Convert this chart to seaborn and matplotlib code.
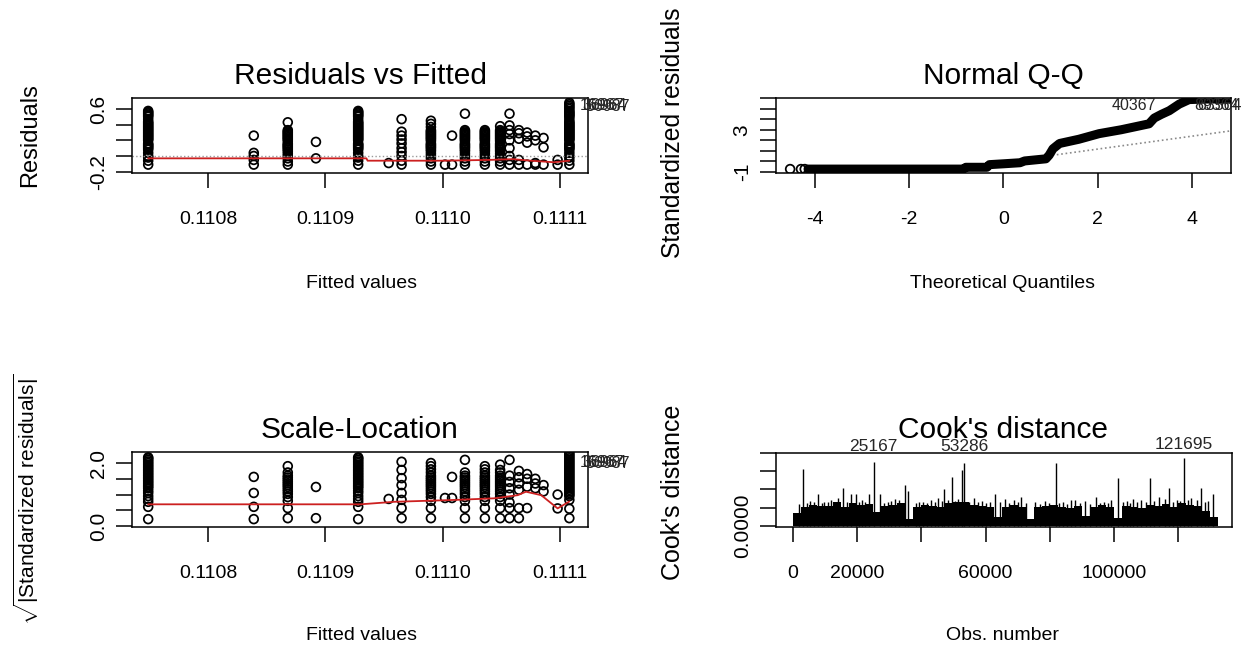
import matplotlib
matplotlib.use("Agg")
import pandas as pd
import matplotlib.pyplot as plt
import seaborn as sns
from matplotlib import font_manager

# ---------------- data ----------------
# Residuals vs Fitted / Scale-Location: one column of points per fitted value
fit_cols = [0.110749, 0.110839, 0.110868, 0.110892, 0.110928, 0.110954, 0.110965,
            0.110990, 0.111002, 0.111008, 0.111019, 0.111036, 0.111049, 0.111057,
            0.111065, 0.111072, 0.111079, 0.111086, 0.111098, 0.111108]

resid_dense = [-0.11, -0.06, -0.02, 0.0, 0.04, 0.08, 0.10, 0.115, 0.13, 0.145, 0.16, 0.20,
               0.215, 0.23, 0.245, 0.26, 0.275, 0.29, 0.305, 0.32, 0.335, 0.35, 0.365,
               0.38, 0.395, 0.41, 0.425, 0.44, 0.47, 0.50, 0.515, 0.53, 0.545, 0.56, 0.575]
resid_low = [-0.11, -0.07, -0.03, 0.0, 0.03, 0.06, 0.08, 0.10, 0.115, 0.13, 0.145, 0.16,
             0.19, 0.21, 0.225, 0.24, 0.255, 0.27, 0.285, 0.30, 0.315, 0.33]
resid_cols = [
    resid_dense,
    [-0.11, -0.05, 0.0, 0.04, 0.26],
    resid_low + [0.43],
    [-0.03, 0.18],
    resid_dense,
    [-0.09],
    [-0.11, -0.06, 0.0, 0.05, 0.10, 0.16, 0.21, 0.26, 0.31, 0.47],
    resid_low + [0.37, 0.41, 0.45],
    [-0.11],
    [-0.11, 0.26],
    resid_low + [0.54],
    resid_low,
    resid_low + [0.38],
    [-0.11, -0.05, 0.0, 0.10, 0.20, 0.28, 0.33, 0.39, 0.54],
    [-0.11, -0.05, 0.22, 0.29, 0.33],
    [-0.11, 0.17, 0.25, 0.30],
    [-0.11, -0.09, 0.20, 0.26],
    [-0.11, 0.11, 0.23],
    [-0.11, -0.05],
    resid_dense + [0.60, 0.62, 0.64, 0.66, 0.68],
]
rvf_smooth_x = [0.110749, 0.110935, 0.110936, 0.111000, 0.111040, 0.111060, 0.111075, 0.111095, 0.111108]
rvf_smooth_y = [-0.03, -0.03, -0.06, -0.06, -0.05, -0.04, -0.06, -0.08, -0.06]
rvf_lab_x = [0.111117, 0.111119, 0.111122]
rvf_lab_y = [0.64, 0.65, 0.63]
rvf_lab = ["16967", "36964", "56987"]

sl_dense = [0.22, 0.61, 0.77, 0.86, 0.95, 1.05, 1.12, 1.20, 1.25, 1.30, 1.35, 1.40, 1.45,
            1.50, 1.55, 1.60, 1.65, 1.70, 1.75, 1.80, 1.85, 1.90, 1.95, 2.00, 2.05, 2.10,
            2.15, 2.18]
sl_mid = [0.25, 0.57, 0.80, 0.92, 1.02, 1.10, 1.17, 1.24, 1.30, 1.36, 1.42, 1.48, 1.54,
          1.60, 1.70]
sl_top = [0.25, 0.55, 0.83, 0.95, 1.00, 1.05, 1.10, 1.15, 1.20, 1.25, 1.30, 1.35, 1.40,
          1.45, 1.50, 1.55, 1.60, 1.65, 1.70, 1.75, 1.80, 1.85, 1.90, 1.95, 2.00, 2.05,
          2.10, 2.15, 2.20, 2.25, 2.30, 2.36]
sl_cols = [
    sl_dense,
    [0.22, 0.61, 1.05, 1.56],
    sl_mid + [1.90],
    [0.25, 1.24],
    sl_dense,
    [0.86],
    [0.25, 0.57, 0.83, 1.05, 1.30, 1.52, 1.78, 2.04],
    sl_mid + [1.80, 1.90, 2.00],
    [0.89],
    [0.89, 1.56],
    sl_mid + [2.10],
    sl_mid + [1.80, 1.90],
    sl_mid + [1.78, 1.95],
    [0.25, 0.57, 0.75, 1.00, 1.20, 1.40, 1.60, 2.10],
    [0.25, 0.57, 1.15, 1.35, 1.55, 1.75],
    [0.57, 1.25, 1.50, 1.65],
    [1.20, 1.35, 1.50],
    [1.10, 1.30],
    [0.56, 1.00],
    sl_top,
]
sl_smooth_x = [0.110749, 0.110930, 0.110959, 0.111011, 0.111044, 0.111064, 0.111071, 0.111084, 0.111098, 0.111108]
sl_smooth_y = [0.69, 0.69, 0.77, 0.83, 0.88, 0.98, 1.09, 0.98, 0.56, 0.78]
sl_lab_x = [0.111117, 0.111119, 0.111122]
sl_lab_y = [2.01, 2.02, 2.00]
sl_lab = ["16967", "36964", "56987"]

# Normal Q-Q: outlying left points, the dense band of sorted residuals, reference line
qq_pts_x = [-4.53, -4.30, -4.22]
qq_pts_y = [-0.72, -0.72, -0.72]
qq_band_x = [-4.15, -0.85, -0.80, -0.35, -0.30, 0.00, 0.35, 0.45, 0.90, 0.97, 1.05, 1.19,
             1.60, 2.03, 2.50, 3.09, 3.20, 3.35, 3.52, 3.73, 3.94, 4.30, 4.83]
qq_band_y = [-0.72, -0.72, -0.55, -0.55, -0.30, -0.22, -0.12, 0.05, 0.25, 0.60, 1.20, 1.70,
             2.10, 2.63, 3.00, 3.56, 4.10, 4.45, 4.80, 5.42, 5.85, 5.90, 5.90]
qq_line_x = [-5.0, 5.0]
qq_line_y = [-3.10, 3.00]
qq_lab_x = [2.30, 4.05, 4.12]
qq_lab_y = [5.30, 5.30, 5.30]
qq_lab = ["40367", "89364", "63564"]

# Cook's distance (units of 1e-4): base mass and spikes
cook_band_obs = [1250, 3750, 6250, 8750, 11250, 13750, 16250, 18750, 21250, 23750, 26250,
                 28750, 31250, 33750, 36250, 38750, 41250, 43750, 46250, 48750, 51250, 53750,
                 56250, 58750, 61250, 63750, 66250, 68750, 71250, 73750, 76250, 78750, 81250,
                 83750, 86250, 88750, 91250, 93750, 96250, 98750, 101250, 103750, 106250,
                 108750, 111250, 113750, 116250, 118750, 121250, 123750, 126250, 128750, 131000]
cook_band_val = [0.7, 1.05, 1.15, 1.1, 1.1, 1.3, 1.05, 1.25, 1.15, 1.2, 0.75, 1.1, 1.15,
                 1.25, 0.4, 1.05, 1.15, 1.1, 1.05, 1.25, 1.3, 1.3, 1.15, 1.1, 1.05, 0.5,
                 1.05, 1.15, 1.05, 0.4, 1.05, 1.1, 1.15, 1.05, 1.0, 1.1, 0.55, 1.05, 1.15,
                 1.05, 0.45, 1.1, 1.05, 1.0, 1.15, 1.1, 1.2, 1.05, 1.25, 1.15, 1.1, 0.8, 0.5]
cook_spike_obs = [1800, 3100, 4400, 5200, 6600, 7800, 9000, 9800, 11000, 12000, 13100, 14200,
                  15500, 16700, 18000, 19600, 20600, 21500, 22600, 23600, 25167, 27000,
                  28300, 29500, 30700, 31800, 33200, 34800, 36000, 38200, 39400, 40500,
                  41800, 43000, 44300, 45200, 46300, 47200, 48400, 49700, 50600, 51500,
                  52800, 53286, 54800, 56500, 57700, 59000, 60200, 61500, 62800, 64500,
                  66000, 67400, 68800, 70000, 71200, 72600, 75500, 76900, 78500, 79800,
                  81800, 83000, 84000, 85300, 86500, 88000, 89400, 91000, 92600, 94500,
                  95700, 97000, 98100, 99200, 101400, 102700, 104000, 105000, 106000,
                  107300, 108500, 110000, 111300, 112600, 114000, 115800, 117200, 118400,
                  119500, 120500, 121695, 123000, 124000, 125800, 127100, 128200, 129200,
                  130900]
cook_spike_val = [1.20, 3.10, 1.25, 1.35, 1.30, 1.75, 1.25, 1.30, 1.30, 1.45, 1.25, 1.55,
                  2.08, 1.30, 1.75, 1.75, 1.30, 1.40, 1.30, 1.75, 3.50, 1.75, 1.25, 1.30,
                  1.35, 1.50, 1.45, 2.25, 1.90, 1.25, 1.30, 1.30, 1.25, 1.40, 1.30, 1.55,
                  1.35, 2.00, 1.40, 2.68, 1.35, 1.50, 3.07, 3.47, 1.30, 1.55, 1.30, 1.35,
                  1.25, 1.30, 1.75, 1.30, 1.50, 1.25, 1.40, 1.30, 1.60, 1.25, 1.30, 1.20,
                  1.35, 1.25, 3.47, 1.25, 1.30, 1.20, 1.45, 1.40, 1.25, 1.35, 1.20, 1.60,
                  1.25, 1.30, 1.25, 1.40, 2.65, 1.30, 1.35, 1.25, 1.50, 1.30, 1.45, 1.30,
                  2.65, 1.35, 1.60, 1.50, 2.08, 1.30, 1.45, 1.35, 3.73, 1.40, 1.55, 1.40,
                  2.08, 1.30, 1.35, 1.75]
cook_lab_obs = [25167, 53286, 121695]
cook_lab_y = [4.33, 4.33, 4.49]
cook_lab = ["25167", "53286", "121695"]

# ---------------- figure ----------------
sns.set_theme(style="white")
plt.rcParams["font.family"] = ["Liberation Sans", "DejaVu Sans"]
plt.rcParams["mathtext.fontset"] = "custom"
plt.rcParams["mathtext.rm"] = "Liberation Sans"
plt.rcParams["axes.edgecolor"] = "black"
plt.rcParams["axes.linewidth"] = 1.1


def has_font(name):
    try:
        font_manager.findfont(name, fallback_to_default=False)
        return True
    except ValueError:
        return False


# the picture's horizontal text is condensed; use the narrow face when present
if has_font("Liberation Sans Narrow"):
    hfam, hsize = ["Liberation Sans Narrow", "DejaVu Sans"], 16
else:
    hfam, hsize = ["Liberation Sans", "DejaVu Sans"], 14

W, H = 1253, 650
fig = plt.figure(figsize=(W / 100, H / 100), dpi=100)


def box(x0, y0, x1, y1):
    return [x0 / W, 1 - y1 / H, (x1 - x0) / W, (y1 - y0) / H]


def ftext(x, y, s, size, rot=0, family=None):
    fig.text(x / W, 1 - y / H, s, ha="center", va="center", fontsize=size,
             rotation=rot, color="black", family=family)


def style(ax, xt, xl, yt, yl):
    ax.set_xticks(xt, xl)
    ax.set_yticks(yt, yl)
    ax.tick_params(axis="x", direction="out", length=10.8, width=1.1, pad=16.5,
                   labelsize=hsize, colors="black", bottom=True)
    ax.tick_params(axis="y", direction="out", length=11.5, width=1.1, pad=6,
                   labelsize=15, colors="black", left=True)
    for lab in ax.get_xticklabels():
        lab.set_family(hfam)
    for lab in ax.get_yticklabels():
        lab.set_rotation(90)
        lab.set_va("center")
    for s in ax.spines.values():
        s.set_visible(True)
        s.set_color("black")
        s.set_linewidth(1.1)
    ax.set_xlabel("")
    ax.set_ylabel("")


def column_frame(cols):
    rows = [(f, v) for f, vals in zip(fit_cols, cols) for v in vals]
    return pd.DataFrame(rows, columns=["fitted", "value"])


pt_kw = dict(s=40, facecolors="none", edgecolor="black", linewidth=1.25, legend=False)
fx_ticks = [0.1108, 0.1109, 0.1110, 0.1111]
fx_labels = ["0.1108", "0.1109", "0.1110", "0.1111"]

# Residuals vs Fitted
ax1 = fig.add_axes(box(132, 98, 588, 173))
ax1.axhline(0, color="#9a9a9a", ls=":", lw=1)
sns.scatterplot(data=column_frame(resid_cols), x="fitted", y="value", ax=ax1, **pt_kw)
sns.lineplot(x=rvf_smooth_x, y=rvf_smooth_y, ax=ax1, color="#cc2020", lw=1.3)
for x, y, t in zip(rvf_lab_x, rvf_lab_y, rvf_lab):
    ax1.text(x, y, t, fontsize=11.5, ha="left", va="center", clip_on=False)
ax1.set_xlim(0.1107352, 0.1111239)
ax1.set_ylim(-0.217, 0.74)
style(ax1, fx_ticks, fx_labels, [-0.2, 0.0, 0.2, 0.4, 0.6], ["-0.2", "", "", "", "0.6"])

# Normal Q-Q
ax2 = fig.add_axes(box(776, 98, 1231, 173))
sns.lineplot(x=qq_line_x, y=qq_line_y, ax=ax2, color="#8a8a8a", ls=":", lw=1.2)
sns.lineplot(x=qq_band_x, y=qq_band_y, ax=ax2, color="black", lw=6.5, sort=False)
sns.scatterplot(x=qq_pts_x, y=qq_pts_y, ax=ax2, **pt_kw)
for x, y, t in zip(qq_lab_x, qq_lab_y, qq_lab):
    ax2.text(x, y, t, fontsize=11.5, ha="left", va="center", clip_on=False)
ax2.set_xlim(-4.83, 4.83)
ax2.set_ylim(-1.09, 6.0)
style(ax2, [-4, -2, 0, 2, 4], ["-4", "-2", "0", "2", "4"],
      [-1, 0, 1, 2, 3, 4, 5, 6], ["-1", "", "", "", "3", "", "", ""])

# Scale-Location
ax3 = fig.add_axes(box(132, 452, 588, 527))
sns.scatterplot(data=column_frame(sl_cols), x="fitted", y="value", ax=ax3, **pt_kw)
sns.lineplot(x=sl_smooth_x, y=sl_smooth_y, ax=ax3, color="#cc2020", lw=1.3)
for x, y, t in zip(sl_lab_x, sl_lab_y, sl_lab):
    ax3.text(x, y, t, fontsize=11.5, ha="left", va="center", clip_on=False)
ax3.set_xlim(0.1107352, 0.1111239)
ax3.set_ylim(-0.03, 2.35)
style(ax3, fx_ticks, fx_labels, [0.0, 0.5, 1.0, 1.5, 2.0], ["0.0", "", "", "", "2.0"])

# Cook's distance
ax4 = fig.add_axes(box(776, 453, 1232, 527))
ax4.bar(cook_band_obs, cook_band_val, width=2500, color="black", linewidth=0)
ax4.vlines(cook_spike_obs, 0, cook_spike_val, color="black", lw=1)
for x, y, t in zip(cook_lab_obs, cook_lab_y, cook_lab):
    ax4.text(x, y, t, fontsize=12.5, ha="center", va="center", clip_on=False)
ax4.set_xlim(-5259, 136759)
ax4.set_ylim(-0.055, 4.0)
style(ax4, [0, 20000, 40000, 60000, 80000, 100000, 120000],
      ["0", "20000", "", "60000", "", "100000", ""],
      [0, 1, 2, 3, 4], ["0.0000", "", "", "", ""])

# titles and axis labels
ftext(360, 76, "Residuals vs Fitted", 21.5)
ftext(1003, 76, "Normal Q-Q", 21.5)
ftext(360, 430, "Scale-Location", 21.5)
ftext(1003, 430, "Cook's distance", 21.5)
ftext(362, 283, "Fitted values", hsize, family=hfam)
ftext(1003, 283, "Theoretical Quantiles", hsize, family=hfam)
ftext(362, 635, "Fitted values", hsize, family=hfam)
ftext(1003, 635, "Obs. number", hsize, family=hfam)
ftext(30, 135, "Residuals", 17, rot=90)
ftext(673, 133, "Standardized residuals", 17.8, rot=90)
ftext(26, 499, r"$\sqrt{|\mathrm{Standardized\ residuals}|}$", 15, rot=90)
ftext(673, 492, "Cook's distance", 18, rot=90)

fig.savefig("out.png", dpi=100)
